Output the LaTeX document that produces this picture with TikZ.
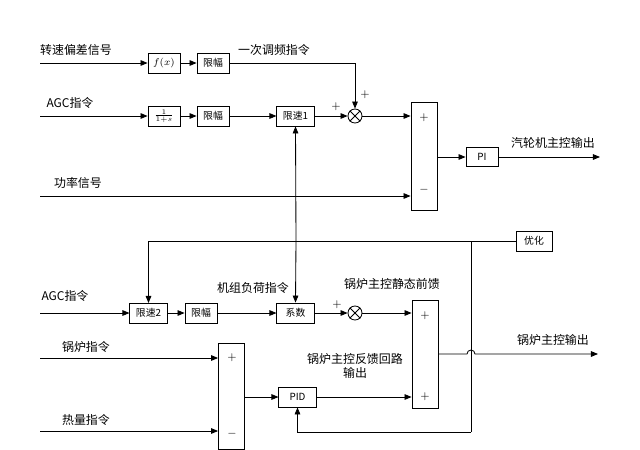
\documentclass[tikz,border=0pt]{standalone}
\usepackage{fontspec}
\usepackage{tikz}
\usetikzlibrary{positioning}
\usetikzlibrary{arrows.meta}
\newfontfamily\cjk{Noto Sans CJK SC}

\tikzset{
  blk/.style={draw, line width=0.6pt, minimum width=0.8cm, minimum height=0.5cm, inner sep=0pt, font=\fontsize{7}{8}\selectfont\cjk},
  wblk/.style={blk, minimum width=0.93cm},
  sumblk/.style={draw, line width=0.6pt, minimum width=0.65cm, minimum height=2.7cm, inner sep=0pt},
  mult/.style={draw, circle, line width=0.6pt, minimum size=0.35cm, inner sep=0pt},
  lbl/.style={font=\fontsize{8.5}{10}\selectfont\cjk, inner sep=0pt},
  sgn/.style={font=\fontsize{8.5}{10}\selectfont, inner sep=0pt},
  sig/.style={line width=0.6pt, -{Triangle[length=5pt,width=4pt]}},
  wire/.style={line width=0.6pt}
}

\begin{document}
\begin{tikzpicture}[x=0.025cm, y=-0.025cm]
\useasboundingbox (0,0) rectangle (640,449);

% turbine part
\node[blk] (fx) at (164,63) {$f(x)$};
\node[blk] (lim1) at (213,63) {限幅};
\node[blk] (tf) at (164,116) {$\frac{1}{1+s}$};
\node[blk] (lim2) at (213,116) {限幅};
\node[wblk] (rate1) at (295.5,116) {限速1};
\node[mult] (m1) at (355,116) {};
\draw[wire] (m1.north west)--(m1.south east) (m1.north east)--(m1.south west);
\node[sumblk] (sum1) at (424,156) {};
\node[blk, minimum height=0.48cm] (pi) at (482,157) {PI};

\coordinate (in1) at (40,63);
\coordinate (in2) at (40,116);
\coordinate (in3) at (40,196);
\coordinate (out1) at (600,157);

\draw[sig] (in1) -- (fx);
\draw[sig] (fx) -- (lim1);
\draw[sig] (lim1.east) -| (m1.north);
\draw[sig] (in2) -- (tf);
\draw[sig] (tf) -- (lim2);
\draw[sig] (lim2) -- (rate1);
\draw[sig] (rate1) -- (m1);
\draw[sig] (m1.east) -- (m1.east -| sum1.west);
\draw[sig] (in3) -- (in3 -| sum1.west);
\draw[sig] (sum1.east |- pi.west) -- (pi.west);
\draw[sig] (pi) -- (out1);

\node[lbl] (t1) at (76,50) {转速偏差信号};
\node[lbl] (t2) at (274,50) {一次调频指令};
\node[lbl] (t3) at (70,103) {AGC指令};
\node[lbl] (t4) at (78,183) {功率信号};
\node[lbl] (t5) at (553,143) {汽轮机主控输出};
\node[sgn] (s1) at (365,95) {$+$};
\node[sgn] (s2) at (336,107) {$+$};
\node[sgn] (s3) at (424,118) {$+$};
\node[sgn] (s4) at (424,190) {$-$};

% optimisation
\node[blk, minimum width=0.9cm] (opt) at (534,241) {优化};
\coordinate (j1) at (296,241);
\coordinate (j2) at (471,241);
\draw[sig] (opt.west) -| (148.5,303);
\draw[sig] (j1) -- (rate1.south);

% boiler part
\node[wblk] (rate2) at (148.5,313) {限速2};
\node[blk] (lim3) at (201,313) {限幅};
\node[wblk] (coef) at (295.5,313) {系数};
\node[mult] (m2) at (355,313) {};
\draw[wire] (m2.north west)--(m2.south east) (m2.north east)--(m2.south west);
\node[sumblk] (sum2) at (425,354) {};
\node[sumblk, minimum height=2.65cm] (sum3) at (231.5,396) {};
\node[wblk] (pid) at (297.5,397) {PID};

\coordinate (in4) at (40,313);
\coordinate (in5) at (40,358);
\coordinate (in6) at (40,431);
\coordinate (out2) at (598,354);
\coordinate (fb) at (471,432);

\draw[sig] (j1) -- (coef.north);
\draw[sig] (in4) -- (rate2);
\draw[sig] (rate2) -- (lim3);
\draw[sig] (lim3) -- (coef);
\draw[sig] (coef) -- (m2);
\draw[sig] (m2.east) -- (m2.east -| sum2.west);
\draw[sig] (in5) -- (in5 -| sum3.west);
\draw[sig] (in6) -- (in6 -| sum3.west);
\draw[sig] (sum3.east |- pid.west) -- (pid.west);
\draw[sig] (pid.east) -- (pid.east -| sum2.west);
\draw[sig] (sum2.east) -- (467,354) arc (180:360:4) -- (out2);
\draw[wire] (j2) -- (fb);
\draw[sig] (fb) -| (pid.south);

\node[lbl] (t6) at (65,296) {AGC指令};
\node[lbl] (t7) at (253,288) {机组负荷指令};
\node[lbl] (t8) at (392,284) {锅炉主控静态前馈};
\node[lbl] (t9) at (553,340) {锅炉主控输出};
\node[lbl, align=center] (t10) at (355,366) {锅炉主控反馈回路\\输出};
\node[lbl] (t11) at (86,347) {锅炉指令};
\node[lbl] (t12) at (86,420) {热量指令};
\node[sgn] (s5) at (337,305) {$+$};
\node[sgn] (s6) at (425,316) {$+$};
\node[sgn] (s7) at (425,397) {$+$};
\node[sgn] (s8) at (232,358) {$+$};
\node[sgn] (s9) at (232,434) {$-$};
\end{tikzpicture}
\end{document}
